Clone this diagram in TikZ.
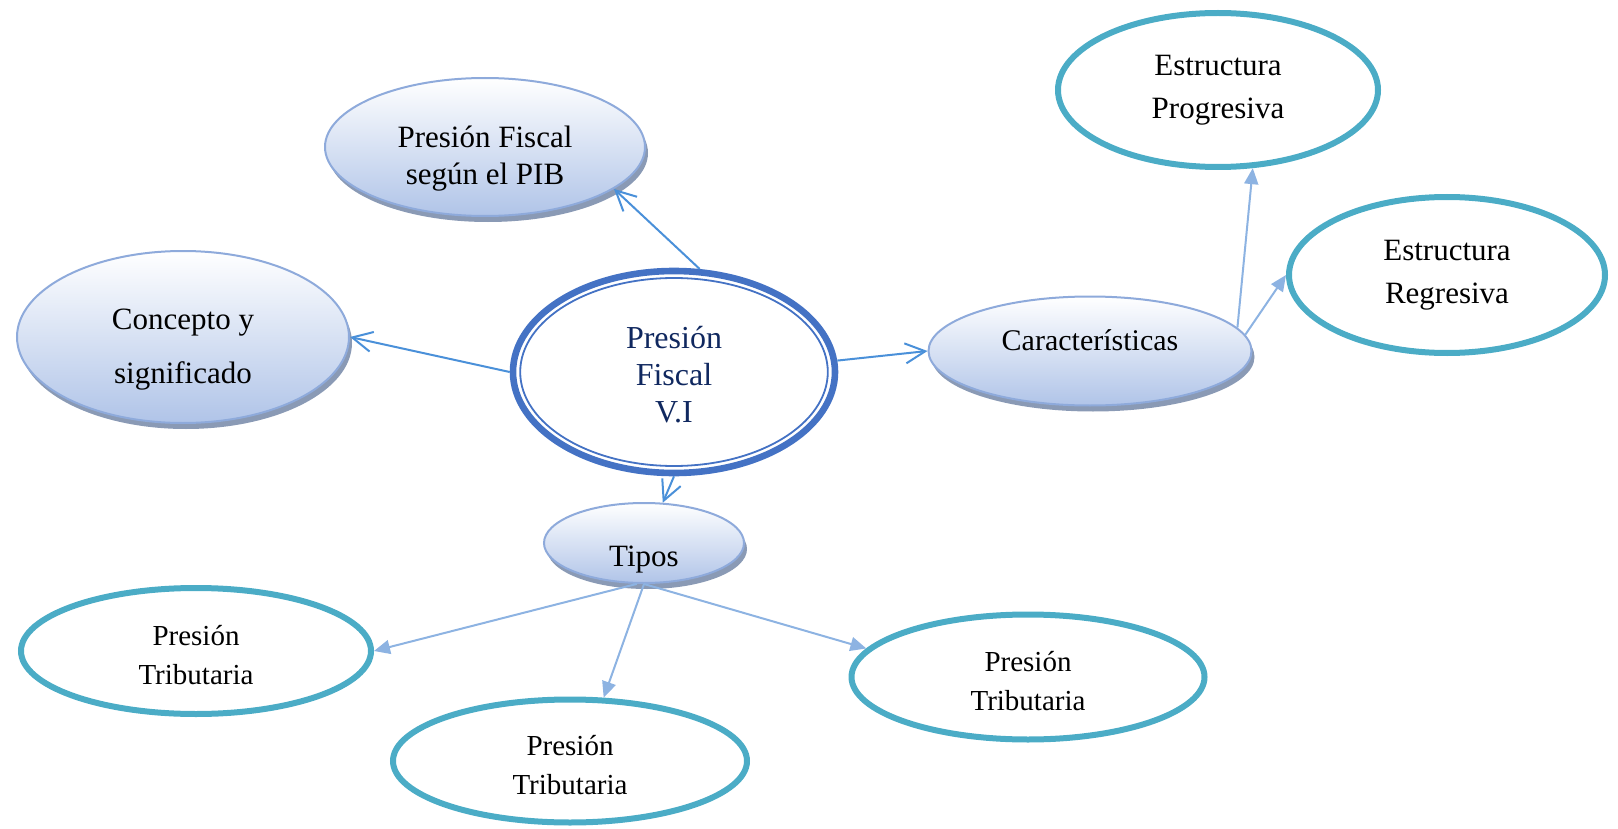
\documentclass[tikz,border=0pt]{standalone}
\usepackage{fontspec}
\setmainfont{Liberation Serif}
\usetikzlibrary{shapes.geometric,shadows,arrows.meta}
\definecolor{ringblue}{HTML}{4472C4}
\definecolor{navytext}{HTML}{10285F}
\definecolor{linkblue}{HTML}{4A90D9}
\definecolor{sublink}{HTML}{8DB3E2}
\definecolor{tealring}{HTML}{4BACC6}
\definecolor{bubbleline}{HTML}{8EAADB}
\definecolor{bubblebot}{HTML}{B0C4E8}
\definecolor{bubbleshade}{HTML}{8A9AB5}
\newcommand\padtop[1]{\rule{0pt}{#1}}
\begin{document}
\begin{tikzpicture}[x=0.5pt,y=-0.5pt,
  bubble/.style={ellipse,draw=bubbleline,line width=1pt,top color=white,bottom color=bubblebot,
    drop shadow={shadow xshift=1.5pt,shadow yshift=-3pt,fill=bubbleshade,opacity=1},
    align=center,inner sep=0pt,font=\fontsize{15.5}{18.5}\selectfont},
  tealbox/.style={ellipse,draw=tealring,line width=3pt,align=center,inner sep=0pt,
    font=\fontsize{14.5}{19.5}\selectfont},
  mainlink/.style={draw=linkblue,line width=1pt,-{Straight Barb[length=10pt,width=10pt]}},
  sublinks/.style={draw=sublink,line width=1pt,-{Triangle[length=8pt,width=7pt]}}]
\useasboundingbox (0,0) rectangle (1618,829);
% centre
\node[ellipse,draw=ringblue,line width=3.3pt,minimum width=161pt,minimum height=101pt,
  align=center,text=navytext,font=\fontsize{16}{18.5}\selectfont] (pf) at (674,372) {\padtop{14pt}Presión\\Fiscal\\V.I};
\draw[ringblue,line width=0.9pt] (pf.center) ellipse (153.8 and 94);
% first ring
\node[bubble,minimum width=160pt,minimum height=69pt] (pib) at (485,147) {\padtop{22.5pt}Presión Fiscal\\según el PIB};
\node[bubble,minimum width=166pt,minimum height=86pt,font=\fontsize{15.5}{27}\selectfont] (concepto) at (183,337) {\padtop{22.5pt}Concepto y\\significado};
\node[bubble,minimum width=161.5pt,minimum height=54.5pt,font=\fontsize{15}{18}\selectfont,
  text height=10.5pt,text depth=11.3pt] (carac) at (1090,351) {Características};
\node[bubble,minimum width=100pt,minimum height=40pt,text height=23pt,text depth=0pt] (tipos) at (644,543) {Tipos};
% second ring
\node[tealbox,minimum width=160pt,minimum height=77pt,font=\fontsize{15.5}{21.5}\selectfont] (ep) at (1218,90) {Estructura\\Progresiva};
\node[tealbox,minimum width=158pt,minimum height=78pt,font=\fontsize{15.5}{21.5}\selectfont] (er) at (1447,275) {Estructura\\Regresiva};
\node[tealbox,minimum width=175pt,minimum height=63pt] (pt1) at (196,651) {\padtop{14pt}Presión\\Tributaria};
\node[tealbox,minimum width=177pt,minimum height=61.5pt] (pt2) at (570,761) {\padtop{14pt}Presión\\Tributaria};
\node[tealbox,minimum width=176.5pt,minimum height=62.5pt] (pt3) at (1028,677) {\padtop{14pt}Presión\\Tributaria};
% links
\draw[mainlink] (pf.76) -- (pib.-18);
\draw[mainlink] (pf.west) -- (concepto.east);
\draw[mainlink] (pf.4) -- (carac.west);
\draw[mainlink] (pf.south) -- (tipos.65);
\draw[sublinks] (carac.9) -- (ep.-66);
\draw[sublinks] (carac.6) -- (er.west);
\draw[sublinks] (tipos.-100) -- (pt1.east);
\draw[sublinks] (tipos.south) -- (pt2.62);
\draw[sublinks] (tipos.south) -- (pt3.170);
\end{tikzpicture}
\end{document}
